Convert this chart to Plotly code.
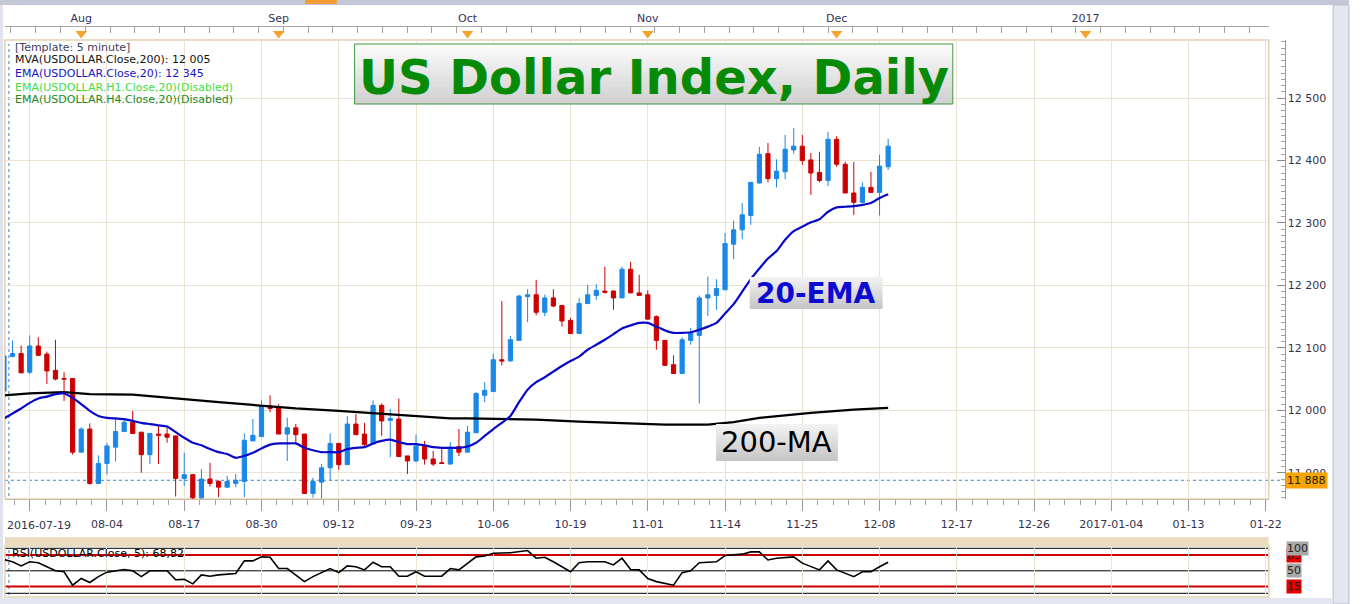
import plotly.graph_objects as go

# ─── Canvas ───────────────────────────────────────────────────────────────────
W, H = 1362, 604


def px(x):
    return x / W


def py(y):
    return 1 - y / H


# ─── Data (bar 0 sits on the first vertical gridline) ───
bar_idx = list(range(-3, 101))

opens = [
    12031, 12086, 12091, 12061, 12103, 12090, 12064, 12051, 12051, 11933,
    11970, 11883, 11915, 11941, 11966, 11981, 11965, 11929, 11962, 11962,
    11959, 11891, 11897, 11860, 11890, 11886, 11877, 11883, 11886, 11951,
    11958, 12007, 12004, 11962, 11972, 11962, 11867, 11885, 11908, 11947,
    11913, 11978, 11962, 11946, 12008, 11984, 11986, 11927, 11919, 11943,
    11922, 11916, 11914, 11942, 11933, 11964, 12024, 12030, 12081, 12079,
    12112, 12182, 12185, 12157, 12180, 12168, 12144, 12123, 12171, 12184,
    12191, 12191, 12180, 12226, 12188, 12185, 12150, 12112, 12073, 12059,
    12112, 12120, 12180, 12184, 12193, 12266, 12289, 12312, 12364, 12411,
    12371, 12382, 12417, 12423, 12401, 12381, 12368, 12434, 12394, 12348,
    12333, 12357, 12349, 12390,
]
highs = [
    12090, 12112, 12104, 12120, 12117, 12094, 12113, 12061, 12051, 11973,
    11979, 11928, 11948, 11986, 11984, 11999, 11965, 11963, 11975, 11972,
    11959, 11932, 11897, 11906, 11916, 11888, 11895, 11898, 11963, 11986,
    12016, 12024, 12010, 11988, 11978, 11962, 11892, 11914, 11963, 11947,
    11991, 11994, 11980, 12016, 12011, 12002, 12019, 11927, 11961, 11951,
    11935, 11939, 11949, 11970, 11975, 12029, 12045, 12091, 12175, 12119,
    12185, 12194, 12209, 12185, 12194, 12168, 12148, 12180, 12201, 12202,
    12230, 12192, 12230, 12238, 12217, 12192, 12152, 12112, 12088, 12117,
    12132, 12184, 12214, 12210, 12284, 12304, 12332, 12366, 12422, 12428,
    12402, 12441, 12452, 12441, 12412, 12414, 12446, 12439, 12398, 12398,
    12365, 12382, 12409, 12435,
]
lows = [
    12028, 12085, 12060, 12058, 12088, 12042, 12048, 12015, 11929, 11933,
    11881, 11883, 11897, 11918, 11966, 11962, 11900, 11914, 11914, 11948,
    11862, 11879, 11858, 11858, 11878, 11861, 11876, 11877, 11861, 11951,
    11958, 11997, 11962, 11919, 11948, 11867, 11860, 11859, 11887, 11905,
    11913, 11961, 11940, 11946, 11959, 11925, 11926, 11898, 11917, 11913,
    11911, 11914, 11913, 11927, 11933, 11964, 12013, 12030, 12072, 12079,
    12112, 12141, 12152, 12151, 12165, 12134, 12123, 12123, 12170, 12177,
    12187, 12161, 12180, 12188, 12183, 12146, 12097, 12071, 12059, 12059,
    12105, 12011, 12151, 12161, 12193, 12242, 12274, 12297, 12363, 12365,
    12357, 12370, 12411, 12393, 12345, 12365, 12359, 12390, 12348, 12313,
    12333, 12349, 12312, 12385,
]
closes = [
    12087, 12091, 12060, 12103, 12088, 12063, 12050, 12050, 11933, 11970,
    11883, 11915, 11943, 11966, 11981, 11963, 11929, 11963, 11960, 11957,
    11891, 11897, 11860, 11890, 11883, 11877, 11886, 11888, 11952, 11960,
    12007, 12003, 11962, 11972, 11961, 11867, 11886, 11908, 11947, 11913,
    11978, 11961, 11945, 12008, 11983, 11987, 11926, 11919, 11943, 11922,
    11914, 11915, 11941, 11933, 11965, 12027, 12032, 12081, 12079, 12113,
    12183, 12185, 12157, 12180, 12167, 12143, 12123, 12171, 12185, 12192,
    12189, 12180, 12226, 12188, 12184, 12146, 12112, 12072, 12059, 12113,
    12123, 12180, 12185, 12195, 12267, 12289, 12313, 12365, 12410, 12371,
    12383, 12418, 12423, 12400, 12380, 12368, 12434, 12394, 12348, 12333,
    12357, 12349, 12391, 12423,
]

ema20 = [
    11987, 11995, 12003, 12012, 12019, 12022, 12026, 12027, 12020, 12010,
    11999, 11991, 11988, 11987, 11986, 11983, 11980, 11978, 11976, 11974,
    11965, 11956, 11948, 11944, 11938, 11933, 11930, 11924, 11927, 11932,
    11939, 11945, 11947, 11947, 11947, 11940, 11936, 11933, 11933, 11933,
    11938, 11940, 11941, 11947, 11951, 11953, 11949, 11946, 11946, 11944,
    11941, 11940, 11940, 11940, 11942, 11948, 11959, 11970, 11980, 11991,
    12013, 12033, 12045, 12053, 12062, 12071, 12079, 12086, 12097, 12105,
    12113, 12122, 12131, 12136, 12140, 12140, 12134, 12128, 12124, 12124,
    12125, 12129, 12134, 12140, 12155, 12170, 12190, 12210, 12227, 12243,
    12255, 12273, 12287, 12294, 12301, 12306, 12318, 12325, 12326, 12327,
    12329, 12332, 12340, 12346,
]

ma_idx = [-3, 0, 4, 7, 12, 15, 18, 22, 27, 31, 36, 40, 45, 49, 51, 59, 64,
          69, 74, 79, 82, 85, 91, 96, 100]
ma200 = [12024, 12027, 12029, 12026, 12025, 12022, 12018, 12013, 12007, 12003,
         11999, 11995, 11991, 11987, 11987, 11985, 11982, 11980, 11977, 11977,
         11981, 11988, 11996, 12001, 12004]

rsi_idx = [-3, -2, -1, 0, 1, 2, 3, 4, 5, 6, 7, 8, 9, 11, 12, 13, 14, 16, 17,
           18, 19, 20, 21, 22, 24, 25, 26, 27, 28, 29, 30, 32, 33, 35, 36, 37,
           38, 39, 40, 41, 42, 43, 44, 45, 46, 48, 49, 50, 52, 53, 54, 56, 58,
           59, 60, 61, 63, 64, 65, 67, 68, 69, 70, 71, 72, 73, 75, 76, 77, 78,
           80, 81, 83, 84, 85, 86, 87, 89, 90, 92, 93, 94, 96, 97, 98, 99, 100]
rsi_val = [75, 70, 61, 70, 68, 59, 50, 48, 18, 33, 24, 37, 47, 53, 50, 37, 50,
           50, 30, 31, 21, 41, 38, 41, 44, 72, 72, 81, 80, 55, 55, 26, 37, 55,
           46, 61, 59, 52, 69, 59, 59, 38, 38, 48, 38, 38, 55, 52, 81, 83, 89,
           90, 95, 78, 80, 70, 48, 68, 70, 70, 63, 78, 53, 52, 33, 26, 18, 46,
           50, 68, 70, 84, 87, 92, 92, 74, 78, 81, 67, 52, 72, 52, 37, 48, 48,
           59, 69]
rsi_levels = [100, 85, 50, 15, 0]

x_tick_idx = list(range(0, 145, 9))
x_tick_lbl = ["", "08-04", "08-17", "08-30", "09-12", "09-23", "10-06",
              "10-19", "11-01", "11-14", "11-25", "12-08", "12-17", "12-26",
              "2017-01-04", "01-13", "01-22"]
month_idx = [6, 29, 51, 72, 94, 123]
month_lbl = ["Aug", "Sep", "Oct", "Nov", "Dec", "2017"]
y_ticks = [11900, 12000, 12100, 12200, 12300, 12400, 12500]
y_tick_lbl = ["11 900", "12 000", "12 100", "12 200", "12 300", "12 400", "12 500"]
last_price = 11888

# ─── Theme ────────────────────────────────────────────────────────────────────
_FONT = "DejaVu Sans"
_BLUE = "#1b87e6"
_RED = "#cc0000"
_GRID = "#ede3d2"
_FRAME = "#e2d2b2"
_AXTEXT = "#33334d"

X_RANGE = [(5 - 30) / 8.667, (1281 - 30) / 8.667]


def hexmix(c0, c1, t):
    a = [int(c0[i:i + 2], 16) for i in (1, 3, 5)]
    b = [int(c1[i:i + 2], 16) for i in (1, 3, 5)]
    return "#%02x%02x%02x" % tuple(round(a[k] + (b[k] - a[k]) * t) for k in range(3))


def rect(x0, y0, x1, y1, fill=None, line=None, lw=0, layer="above"):
    return dict(type="rect", xref="paper", yref="paper",
                x0=px(x0), x1=px(x1), y0=py(y1), y1=py(y0),
                fillcolor=fill or "rgba(0,0,0,0)",
                line=dict(color=line or "rgba(0,0,0,0)", width=lw),
                layer=layer)


def gradient_box(x0, y0, x1, y1, top, bottom, steps=16):
    out = []
    h = (y1 - y0) / steps
    for i in range(steps):
        out.append(rect(x0, y0 + h * i, x1, min(y1, y0 + h * (i + 1) + 0.6),
                        fill=hexmix(top, bottom, i / (steps - 1))))
    return out


fig = go.Figure()

# ─── Candles & indicators ─────────────────────────────────────────────────────
fig.add_trace(go.Candlestick(
    x=bar_idx, open=opens, high=highs, low=lows, close=closes,
    increasing=dict(line=dict(color=_BLUE, width=1), fillcolor=_BLUE),
    decreasing=dict(line=dict(color=_RED, width=1), fillcolor=_RED),
    whiskerwidth=0, xaxis="x", yaxis="y",
))
fig.add_trace(go.Scatter(
    x=ma_idx, y=ma200, mode="lines", line=dict(color="#000000", width=2.2),
    xaxis="x", yaxis="y",
))
fig.add_trace(go.Scatter(
    x=bar_idx, y=ema20, mode="lines",
    line=dict(color="#0808c8", width=2.2, shape="spline", smoothing=0.6),
    xaxis="x", yaxis="y",
))

# month markers on the top strip
fig.add_trace(go.Scatter(
    x=month_idx, y=[0.45] * len(month_idx), mode="markers",
    marker=dict(symbol="triangle-down", size=10, color="#f5a32a"),
    xaxis="x2", yaxis="y2", cliponaxis=False,
))

# RSI
fig.add_trace(go.Scatter(
    x=rsi_idx, y=rsi_val, mode="lines", line=dict(color="#000000", width=1.6),
    xaxis="x3", yaxis="y3",
))

# ─── Shapes ───────────────────────────────────────────────────────────────────
shapes = []
# window chrome
shapes.append(rect(0, 0, W, 5, fill="#c4c8d6", layer="below"))
shapes.append(rect(308, 0, 340, 4, fill="#f39c33", layer="below"))
shapes.append(rect(0, 5, 3, H, fill="#dfe3ee", layer="below"))
shapes.append(rect(1346, 5, W, H, fill="#e4e7f2", line="#b9bdcc", lw=1, layer="below"))
shapes.append(rect(0, 598, 1346, H, fill="#e4e7f2", layer="below"))
# tan separator between price and RSI panels
shapes.append(rect(5, 537, 1281, 545, fill="#ebdcc0", layer="below"))

# last-price dotted line and cursor line
shapes.append(dict(type="line", xref="paper", yref="y", x0=px(5), x1=px(1296),
                   y0=last_price, y1=last_price,
                   line=dict(color="#3a7fd0", width=1, dash="dot"), layer="between"))
shapes.append(dict(type="line", xref="paper", yref="paper", x0=px(9), x1=px(9),
                   y0=py(496), y1=py(44),
                   line=dict(color="#3a7fd0", width=1, dash="dot"), layer="between"))
shapes.append(dict(type="line", xref="paper", yref="paper", x0=px(9), x1=px(9),
                   y0=py(595), y1=py(549),
                   line=dict(color="#3a7fd0", width=1, dash="dot"), layer="between"))

# RSI level lines
for lvl in rsi_levels:
    red = lvl in (85, 15)
    shapes.append(dict(type="line", xref="paper", yref="y3", x0=px(5), x1=px(1281),
                       y0=lvl, y1=lvl,
                       line=dict(color=_RED if red else "#000000", width=2 if red else 1),
                       layer="between"))

# panel frames
shapes.append(rect(5, 40, 1281, 499, line=_FRAME, lw=1.5, layer="below"))
shapes.append(rect(5, 546, 1281, 597, line=_FRAME, lw=1.5, layer="below"))

# title and callout boxes
shapes += gradient_box(358, 44, 962, 104, "#fbfbfb", "#d0d0d0")
shapes.append(rect(358, 44, 962, 104, line="#3f9a3f", lw=1))
shapes += gradient_box(757, 277, 891, 309, "#f2f2f2", "#c6c6c6")
shapes += gradient_box(723, 424, 846, 461, "#f2f2f2", "#c6c6c6")

# ─── Annotations ──────────────────────────────────────────────────────────────
ann = []


def text(x, y, s, size=11, color="#000000", xanchor="left", bold=False, **kw):
    ann.append(dict(
        x=px(x), y=py(y), xref="paper", yref="paper", text=f"<b>{s}</b>" if bold else s,
        showarrow=False, xanchor=xanchor, yanchor="middle",
        font=dict(family=_FONT, size=size, color=color), **kw,
    ))


text(13, 47, "[Template: 5 minute]", color="#40405a")
text(13, 60, "MVA(USDOLLAR.Close,200): 12 005", color="#111111")
text(13, 73, "EMA(USDOLLAR.Close,20): 12 345", color="#1414c8")
text(13, 87, "EMA(USDOLLAR.H1.Close,20)(Disabled)", color="#3fdc3f")
text(13, 100, "EMA(USDOLLAR.H4.Close,20)(Disabled)", color="#228a22")

text(660, 77, "US Dollar Index, Daily", size=48, color="#078a07", xanchor="center", bold=True)
text(824, 293, "20-EMA", size=28, color="#0c0cd0", xanchor="center", bold=True)
text(784, 442, "200-MA", size=29, color="#000000", xanchor="center")

text(5, 525, "2016-07-19", color=_AXTEXT)
text(10, 553, "RSI(USDOLLAR.Close, 5): 68,82", color="#000000")

# price marker on the y axis
ann.append(dict(x=px(1297), y=last_price, xref="paper", yref="y", text="11 888",
                showarrow=False, xanchor="left", yanchor="middle",
                bgcolor="#f7a400", borderpad=1,
                font=dict(family=_FONT, size=11, color="#222222")))

# RSI scale labels
for lvl, bg, txt in [(85, "#e00000", "85"), (100, "#a8a8a8", "100"),
                     (50, "#a8a8a8", "50"), (15, "#e00000", "15")]:
    ann.append(dict(x=px(1298), y=lvl, xref="paper", yref="y3", text=txt,
                    showarrow=False, xanchor="left", yanchor="middle",
                    bgcolor=bg, borderpad=0,
                    font=dict(family=_FONT, size=11, color="#222222")))

# ─── Layout ───────────────────────────────────────────────────────────────────
# width follows the browser window; every horizontal position is in paper units
fig.update_layout(
    height=H, autosize=True,
    margin=dict(l=0, r=0, t=0, b=0),
    paper_bgcolor="#ffffff",
    plot_bgcolor="#ffffff",
    font=dict(family=_FONT, size=11, color=_AXTEXT),
    showlegend=False,
    hovermode=False,
    shapes=shapes,
    annotations=ann,
    xaxis=dict(
        domain=[px(5), px(1281)], range=X_RANGE, anchor="y",
        rangeslider=dict(visible=False),
        tickmode="array", tickvals=x_tick_idx, ticktext=x_tick_lbl,
        ticks="outside", ticklen=11, tickcolor="#9a9a9a", ticklabelstandoff=4,
        showgrid=True, gridcolor=_GRID, gridwidth=1, zeroline=False,
        showline=True, linecolor="#c8bea9",
        minor=dict(tickmode="linear", tick0=0, dtick=1.8, ticks="outside",
                   ticklen=5, tickcolor="#a0a0a0", showgrid=False),
        tickfont=dict(size=11, color=_AXTEXT),
    ),
    yaxis=dict(
        domain=[py(499), py(40)], range=[11858, 12593],
        anchor="free", position=px(1297), side="right",
        tickmode="array", tickvals=y_ticks, ticktext=y_tick_lbl,
        ticks="inside", ticklen=8, tickcolor="#8a8a8a",
        showline=True, linecolor="#9a9a9a",
        showgrid=True, gridcolor=_GRID, zeroline=False,
        minor=dict(tickmode="linear", tick0=11900, dtick=10, ticks="inside",
                   ticklen=4, tickcolor="#a0a0a0", showgrid=False),
        tickfont=dict(size=11, color=_AXTEXT),
    ),
    xaxis2=dict(
        domain=[px(5), px(1281)], matches="x", anchor="y2", side="top",
        tickmode="array", tickvals=month_idx, ticktext=month_lbl,
        ticks="", showgrid=False, zeroline=False,
        showline=True, linecolor="#a8a8a8",
        minor=dict(tickmode="linear", tick0=0.7, dtick=2.885, ticks="inside",
                   ticklen=6, tickcolor="#a0a0a0", showgrid=False),
        tickfont=dict(size=11, color="#33335a"),
    ),
    yaxis2=dict(domain=[py(39), py(27)], range=[0, 1], visible=False),
    xaxis3=dict(
        domain=[px(5), px(1281)], matches="x", anchor="y3",
        tickmode="array", tickvals=x_tick_idx, showticklabels=False,
        ticks="", showgrid=True, gridcolor=_GRID, zeroline=False, showline=False,
    ),
    yaxis3=dict(domain=[py(597), py(546)], range=[-8.2, 105.1], visible=False),
)

fig.write_html(
    "out.html",
    default_width="100%",
    default_height=f"{H}px",
    config={"displayModeBar": False, "responsive": True},
    post_script="document.body.style.margin='0';document.body.style.overflow='hidden';"
                "Plotly.Plots.resize(document.getElementsByClassName('plotly-graph-div')[0]);",
)
